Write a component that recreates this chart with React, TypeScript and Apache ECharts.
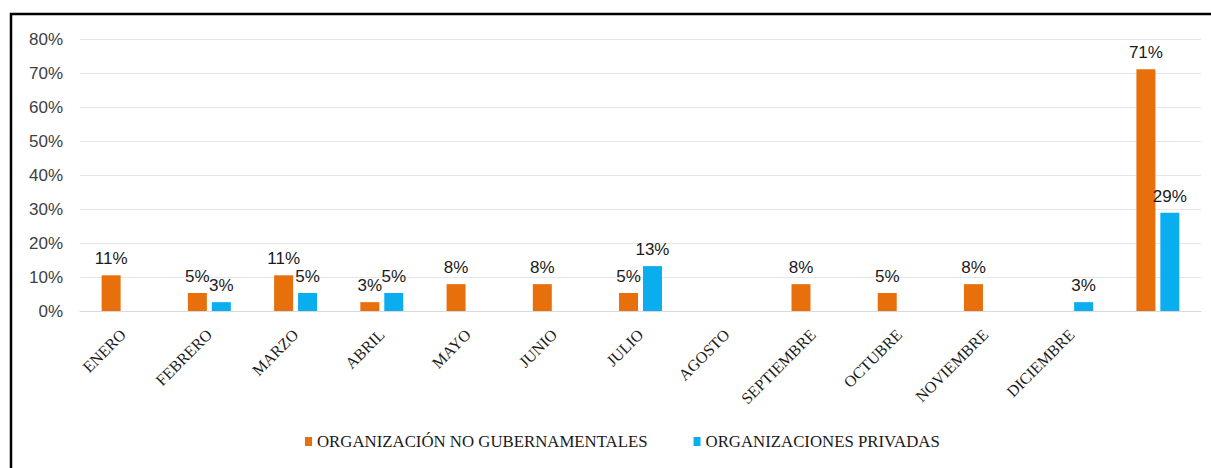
import React, { useEffect, useRef } from "react";
import * as echarts from "echarts";

const categories = [
  "ENERO", "FEBRERO", "MARZO", "ABRIL", "MAYO", "JUNIO", "JULIO",
  "AGOSTO", "SEPTIEMBRE", "OCTUBRE", "NOVIEMBRE", "DICIEMBRE", "",
];
const seriesNames = ["ORGANIZACIÓN NO GUBERNAMENTALES", "ORGANIZACIONES PRIVADAS"];
const ongValues: (number | null)[] = [10.5, 5.3, 10.5, 2.6, 7.9, 7.9, 5.3, null, 7.9, 5.3, 7.9, null, 71.1];
const privValues: (number | null)[] = [null, 2.6, 5.3, 5.3, null, null, 13.2, null, null, null, null, 2.6, 28.9];
const yTicks = { min: 0, max: 80, interval: 10 };
const colors = ["#E8700C", "#0AAEEF"];

export default function App() {
  const ref = useRef<HTMLDivElement>(null);
  useEffect(() => {
    if (!ref.current) return;
    const chart = echarts.init(ref.current, null, { renderer: "svg" });
    const labelCfg = {
      show: true,
      position: "top" as const,
      distance: 8,
      fontFamily: "Liberation Sans",
      fontSize: 17,
      color: "#1a1a1a",
      formatter: (p: any) => `${Math.round(p.value)}%`,
    };
    chart.setOption({
      animation: false,
      backgroundColor: "#ffffff",
      graphic: [
        {
          type: "rect",
          shape: { x: 11, y: 14, width: 1400, height: 700 },
          style: { fill: "none", stroke: "#000000", lineWidth: 2.5 },
          silent: true,
          z: 100,
        },
      ],
      legend: {
        left: 300,
        top: 428,
        itemWidth: 7,
        itemHeight: 9,
        itemGap: 46,
        icon: "rect",
        textStyle: { fontFamily: "Liberation Serif", fontSize: 16.8, color: "#1a1a1a" },
        data: seriesNames,
      },
      grid: { left: 80, right: 10, top: 39, bottom: 157, containLabel: false },
      xAxis: {
        type: "category",
        data: categories,
        axisLine: { show: true, lineStyle: { color: "#D9D9D9" } },
        axisTick: { show: false },
        axisLabel: {
          rotate: 45,
          margin: 21,
          interval: 0,
          fontFamily: "Liberation Serif",
          fontSize: 16,
          color: "#1a1a1a",
        },
      },
      yAxis: {
        type: "value",
        min: yTicks.min,
        max: yTicks.max,
        interval: yTicks.interval,
        axisLine: { show: false },
        axisTick: { show: false },
        splitLine: { lineStyle: { color: "#E6E6E6" } },
        axisLabel: {
          formatter: "{value}%",
          margin: 17,
          fontFamily: "Liberation Sans",
          fontSize: 17,
          color: "#404040",
        },
      },
      series: [
        {
          name: seriesNames[0],
          type: "bar",
          data: ongValues,
          barWidth: 19,
          barGap: "26%",
          itemStyle: { color: colors[0] },
          label: labelCfg,
        },
        {
          name: seriesNames[1],
          type: "bar",
          data: privValues,
          barWidth: 19,
          itemStyle: { color: colors[1] },
          label: labelCfg,
        },
      ],
    });
    return () => chart.dispose();
  }, []);
  return (
    <div
      ref={ref}
      style={{ position: "fixed", left: 0, top: 0, width: 1211, height: 468 }}
    />
  );
}
